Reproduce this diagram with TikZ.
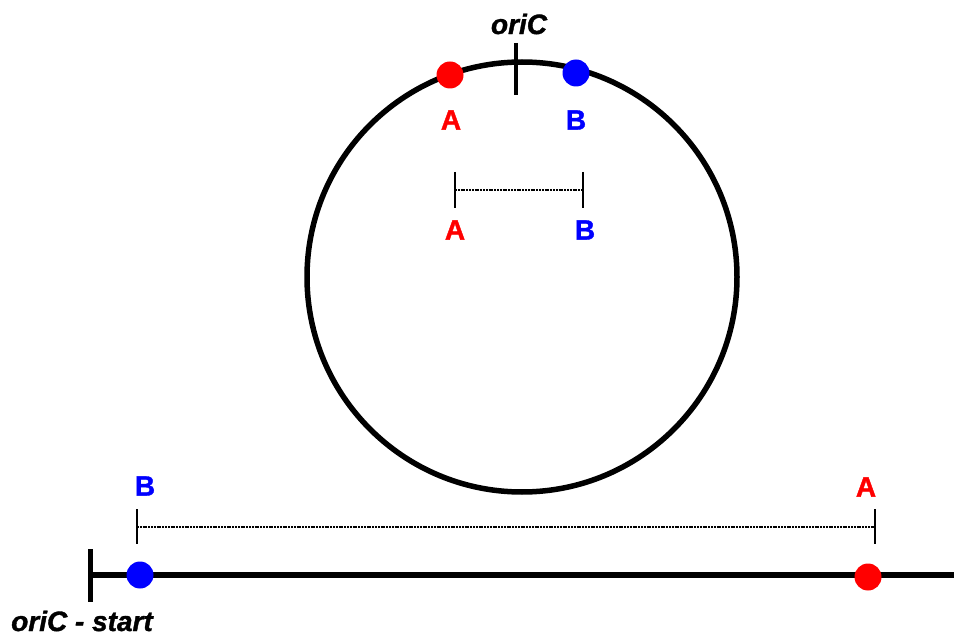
\documentclass[tikz,border=0pt]{standalone}
\usepackage{fontspec}
\setmainfont{Liberation Sans}
\newfontfamily\heavyfont{Liberation Sans}[BoldFeatures={FakeBold=1.3}, BoldItalicFeatures={FakeBold=1.3}]
\usetikzlibrary{positioning}

\tikzset{
  locus/.style={circle, inner sep=0pt, minimum size=27pt},
  lbl/.style={font=\heavyfont\fontsize{28}{30}\selectfont\bfseries, inner sep=1pt},
  orilbl/.style={font=\heavyfont\fontsize{28}{30}\selectfont\bfseries\itshape, inner sep=1pt},
  distbar/.style={line width=1.2pt, dash pattern=on 2pt off 0.8pt},
  bartick/.style={line width=2pt},
}

\begin{document}
\begin{tikzpicture}[x=1pt, y=-1pt]
\useasboundingbox (0,0) rectangle (954,639);

%% ---- chromosome circulaire ----
\draw[line width=5.5pt] (522,277) circle (215pt);
\coordinate (oritop) at (516,43);
\coordinate (oribot) at (516,95);
\draw[line width=4pt] (oritop) -- (oribot);
\node[orilbl] (ori) at (519,24) {oriC};

%% ---- loci sur le cercle ----
\node[locus, fill=red]  (cA) at (450,75) {};
\node[locus, fill=blue] (cB) at (576,73) {};
\node[lbl, text=red]  (cAl) at (451,120) {A};
\node[lbl, text=blue] (cBl) at (576,120) {B};

%% ---- distance A-B (cercle) ----
\coordinate (iA) at (455,190);
\coordinate (iB) at (583,190);
\draw[bartick] ([yshift=18pt]iA) -- ([yshift=-18pt]iA);
\draw[bartick] ([yshift=18pt]iB) -- ([yshift=-18pt]iB);
\draw[distbar] (iA) -- (iB);
\node[lbl, text=red]  (iAl) at (455,230) {A};
\node[lbl, text=blue] (iBl) at (585,230) {B};

%% ---- chromosome lineaire ----
\coordinate (lstart) at (90,575);
\coordinate (lend) at (954,575);
\draw[line width=6pt] (lstart) -- (lend);
\draw[line width=5pt] ([yshift=26pt]lstart) -- ([yshift=-27pt]lstart);
\node[orilbl] (oristart) at (82,621) {oriC - start};

%% ---- loci sur la ligne ----
\node[locus, fill=blue] (lB) at (140,575) {};
\node[locus, fill=red]  (lA) at (868,577) {};

%% ---- distance B-A (ligne) ----
\coordinate (dB) at (137,527);
\coordinate (dA) at (875,527);
\draw[bartick] ([yshift=18pt]dB) -- ([yshift=-17pt]dB);
\draw[bartick] ([yshift=18pt]dA) -- ([yshift=-17pt]dA);
\draw[distbar] (dB) -- (dA);
\node[lbl, text=blue] (dBl) at (145,486) {B};
\node[lbl, text=red]  (dAl) at (866,487) {A};

\end{tikzpicture}
\end{document}
